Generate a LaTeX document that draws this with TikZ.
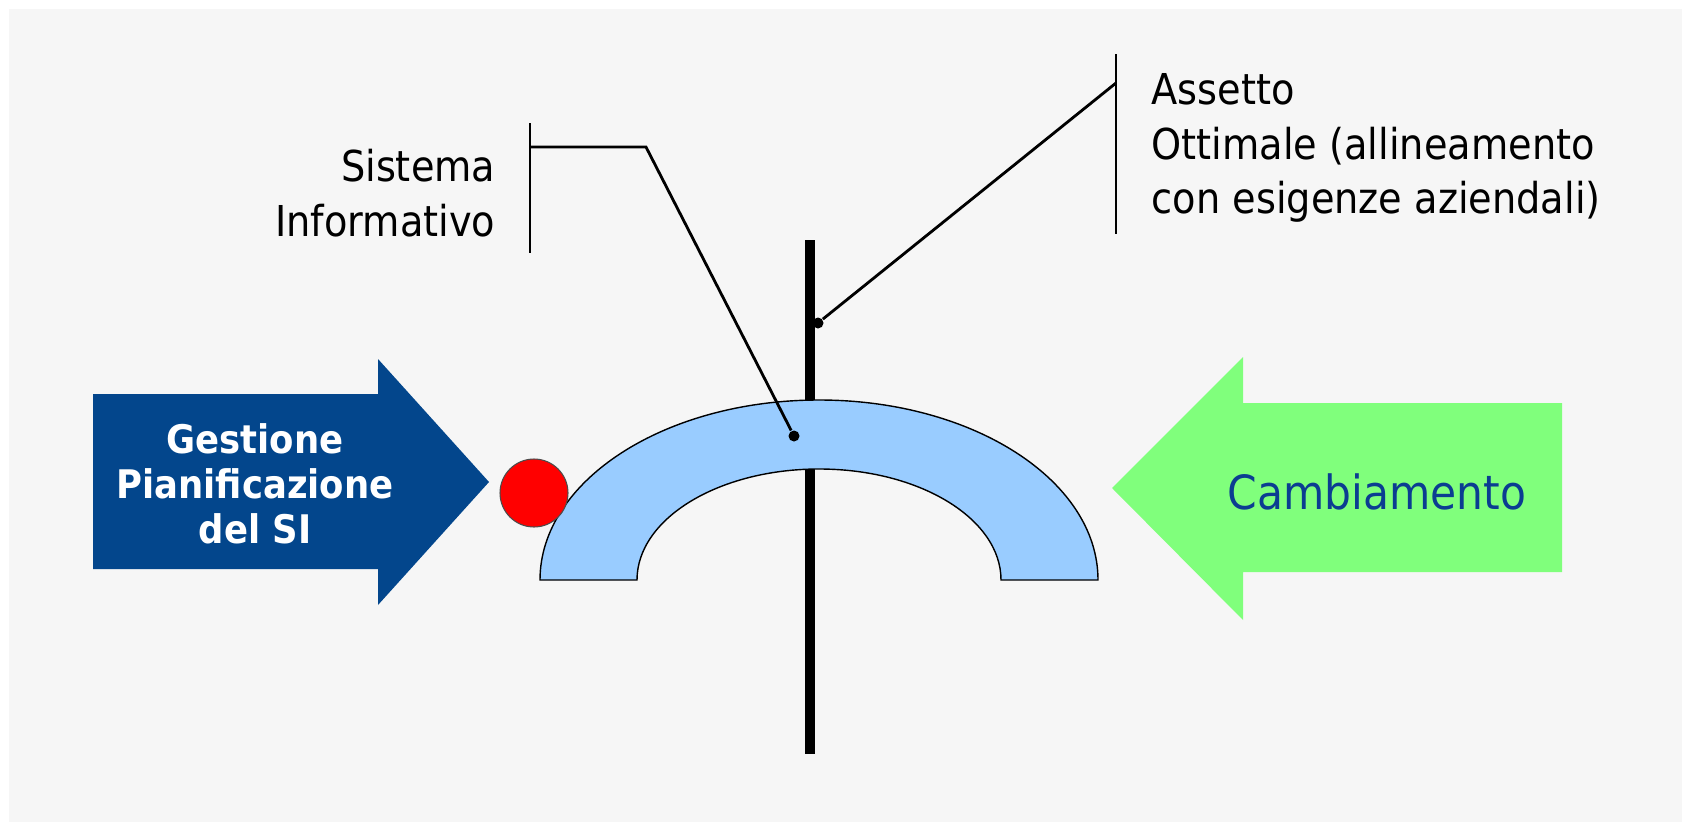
\documentclass[tikz,border=0pt]{standalone}
\usepackage{fontspec}
\setmainfont{DejaVu Sans Condensed}
\usetikzlibrary{positioning}
\definecolor{sfondo}{HTML}{F6F6F6}
\definecolor{bluSI}{HTML}{03468C}
\definecolor{verdeCamb}{HTML}{80FF7C}
\definecolor{azzurroSI}{HTML}{99CCFF}
\definecolor{testoCamb}{HTML}{0B3D91}
\tikzset{
  etichetta/.style={inner sep=0pt,font=\fontsize{12.1}{15.6}\selectfont},
  staffa/.style={line width=0.8pt},
  punto/.style={circle,fill=black,inner sep=0pt,minimum size=0.11cm},
  palo/.style={line width=3.1pt}
}
\begin{document}
\begin{tikzpicture}[x=0.01cm,y=-0.01cm]
\useasboundingbox (0,0) rectangle (1682,821);
\fill[white] (0,0) rectangle (1682,821);
\fill[sfondo] (9,9) rectangle (1700,840);
% asse verticale
\draw[palo] (810,240) -- (810,754);
% arco del sistema informativo
\filldraw[fill=azzurroSI,draw=black,line width=0.4pt] (540,580) arc[start angle=180,end angle=360,x radius=279,y radius=180]
  -- (1001,580) arc[start angle=0,end angle=-180,x radius=182,y radius=111] -- cycle;
\filldraw[fill=red,draw=black!70,line width=0.3pt] (534,493) circle[radius=34];
% frecce
\fill[bluSI] (93,394) -- (378,394) -- (378,359) -- (489,482) -- (378,605) -- (378,569) -- (93,569) -- cycle;
\fill[verdeCamb] (1562,403) -- (1243,403) -- (1243,357) -- (1112,488) -- (1243,620) -- (1243,572) -- (1562,572) -- cycle;
\node[etichetta,text=white,align=center,font=\fontsize{11.2}{12.8}\selectfont\bfseries] (gest) at (255,484) {Gestione\\Pianificazione\\del SI};
\node[etichetta,text=testoCamb,font=\fontsize{13.4}{16}\selectfont] (camb) at (1377,492) {Cambiamento};
% richiami
\node[punto] (puntoSI) at (794,436) {};
\node[punto] (puntoAss) at (818,323) {};
\coordinate (sisAlto) at (530,123);
\coordinate (sisBasso) at (530,253);
\coordinate (sisGomito) at (530,147);
\coordinate (sisPiega) at (646,147);
\coordinate (assAlto) at (1116,54);
\coordinate (assBasso) at (1116,234);
\coordinate (assGomito) at (1116,83);
\draw[staffa] (sisAlto) -- (sisBasso);
\draw[staffa] (sisGomito) -- (sisPiega) -- (puntoSI);
\draw[staffa] (assAlto) -- (assBasso);
\draw[staffa] (assGomito) -- (puntoAss);
\node[etichetta,align=right,anchor=east] (sis) at (496,193) {Sistema\\Informativo};
\node[etichetta,align=left,anchor=west] (ass) at (1151,148) {Assetto\\Ottimale (allineamento\\con esigenze aziendali)};
\end{tikzpicture}
\end{document}
